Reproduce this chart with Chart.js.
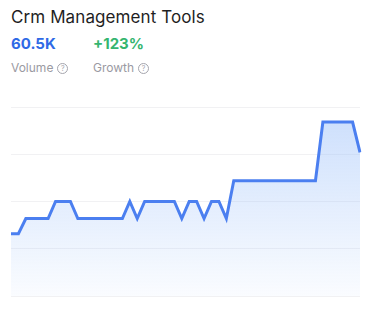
<!DOCTYPE html>
<html>
<head>
<meta charset="utf-8">
<script src="https://cdn.jsdelivr.net/npm/chart.js@4"></script>
<style>
  body { margin: 0; background: #fff; font-family: Inter, "Noto Sans", sans-serif; width: 374px; height: 309px; overflow: hidden; position: relative; }
  .title { position: absolute; left: 11px; top: 7px; font-size: 17px; color: #1f1f1f; letter-spacing: 0.1px; }
  .stat { position: absolute; top: 34px; font-size: 15px; font-weight: 700; }
  .lbl { position: absolute; top: 60px; font-size: 12px; color: #9a9aa2; }
  .q { display: inline-block; width: 9px; height: 9px; border: 1px solid #a5a5ad; border-radius: 50%; font-size: 7px; line-height: 9px; text-align: center; margin-left: 4px; vertical-align: 1px; color: #a5a5ad; }
  #wrap { position: absolute; left: 0; top: 100px; width: 374px; height: 205px; }
</style>
</head>
<body>
<div class="title">Crm Management Tools</div>
<div class="stat" style="left:11px;color:#2f6ae6">60.5K</div>
<div class="stat" style="left:93px;color:#35b56f">+123%</div>
<div class="lbl" style="left:11px">Volume<span class="q">?</span></div>
<div class="lbl" style="left:93px">Growth<span class="q">?</span></div>
<div id="wrap"><canvas id="trend-line-chart"></canvas></div>
<script>
// monthly points, left to right
const months = [];
for (let i = 0; i < 48; i++) months.push('M' + (i + 1));

const volume = [
  33, 33, 41, 41, 41, 41, 50, 50, 50, 41,
  41, 41, 41, 41, 41, 41, 50, 41, 50, 50,
  50, 50, 50, 41, 50, 50, 41, 50, 50, 41,
  61, 61, 61, 61, 61, 61, 61, 61, 61, 61,
  61, 61, 92, 92, 92, 92, 92, 76
];

const yTicks = [0, 25, 50, 75, 100];

const ctx = document.getElementById('trend-line-chart');

new Chart(ctx, {
  type: 'line',
  data: {
    labels: months,
    datasets: [{
      data: volume,
      borderColor: '#4b7ff0',
      borderWidth: 3,
      pointRadius: 0,
      tension: 0,
      fill: true,
      backgroundColor: function (c) {
        const area = c.chart.chartArea;
        if (!area) return 'rgba(75,127,240,0.15)';
        const g = c.chart.ctx.createLinearGradient(0, area.top, 0, area.bottom);
        g.addColorStop(0, 'rgba(160,195,250,0.55)');
        g.addColorStop(1, 'rgba(160,195,250,0.05)');
        return g;
      }
    }]
  },
  options: {
    responsive: true,
    maintainAspectRatio: false,
    animation: false,
    layout: { padding: { left: 11, right: 14, top: 7, bottom: 1 } },
    plugins: { legend: { display: false }, tooltip: { enabled: false } },
    scales: {
      x: {
        offset: false,
        grid: { display: false },
        ticks: { display: false },
        border: { display: false }
      },
      y: {
        min: yTicks[0],
        max: yTicks[yTicks.length - 1],
        afterBuildTicks: function (axis) { axis.ticks = yTicks.map(v => ({ value: v })); },
        grid: { color: '#f1f1f3', drawTicks: false, lineWidth: 1 },
        ticks: { display: false },
        border: { display: false }
      }
    }
  }
});
</script>
</body>
</html>
